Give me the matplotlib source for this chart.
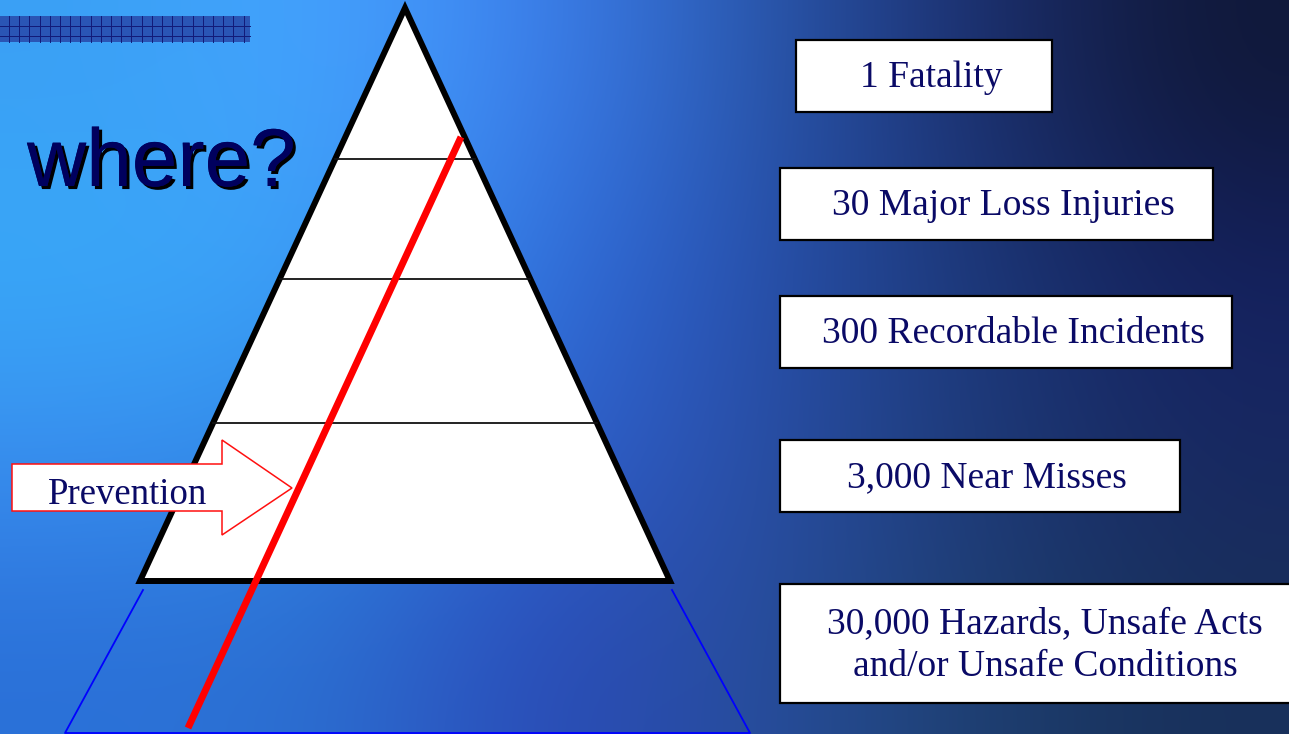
import numpy as np
import matplotlib
matplotlib.use("Agg")
import matplotlib.pyplot as plt
import matplotlib.patheffects as pe
from matplotlib.patches import Polygon, Rectangle
from matplotlib.colors import to_rgb

# pyramid data (top to bottom)
counts = ["1", "30", "300", "3,000", "30,000"]
labels = ["Fatality", "Major Loss Injuries", "Recordable Incidents", "Near Misses",
          "Hazards, Unsafe Acts\nand/or Unsafe Conditions"]
tier_lines = [159, 279, 423]  # y of the tier dividers (pixels)

# box layout (pixels)
box_left = [796, 780, 780, 780, 780]
box_right = [1052, 1213, 1232, 1180, 1296]
box_top = [40, 168, 296, 440, 584]
box_bottom = [112, 240, 368, 512, 703]

W, H = 1289, 734
navy = "#0a0a66"

fig = plt.figure(figsize=(W / 100, H / 100), dpi=100)
ax = fig.add_axes([0, 0, 1, 1])
ax.set_xlim(0, W)
ax.set_ylim(H, 0)
ax.axis("off")

# background gradient from a coarse grid of colours
bg = [["#3aa0f5", "#45a5ff", "#3d7ff0", "#2a5ab0", "#1c2f70", "#101838"],
      ["#38aaf8", "#3da0f8", "#3070e0", "#2850b0", "#1c3a78", "#142060"],
      ["#3a8ef0", "#2f8ae8", "#3060d0", "#2a50a8", "#1e3a78", "#182860"],
      ["#2a70d8", "#2c70d0", "#2a48b8", "#2850a0", "#1e4070", "#18305a"]]
grid = np.array([[to_rgb(c) for c in row] for row in bg])
ax.imshow(grid, extent=[0, W, H, 0], interpolation="bicubic", aspect="auto", zorder=0)

# checkered bar top left
ax.add_patch(Rectangle((0, 16), 250, 26, facecolor="#2a55b5", edgecolor="none", zorder=1))
for gx in np.arange(9, 250, 10.2):
    ax.plot([gx, gx], [16, 42], color="#121a78", lw=0.7, zorder=2)
for gy in [26, 36]:
    ax.plot([0, 250], [gy, gy], color="#121a78", lw=0.7, zorder=2)

# "where?" with a black drop shadow
ax.text(27, 186, "where?", fontsize=59, family="Liberation Sans", color="#00005e", va="baseline", zorder=4,
        path_effects=[pe.withSimplePatchShadow(offset=(2.2, -2.2), shadow_rgbFace="black", alpha=1.0),
                      pe.Normal()])

# blue outline of the hidden base of the pyramid
ax.plot([143, 65, 750, 672], [590, 733, 733, 590], color="#0000ff", lw=1.3, zorder=3)

# pyramid
apex = (405, 8)
base_l, base_r, base_y = 140, 670, 581
ax.add_patch(Polygon([apex, (base_l, base_y), (base_r, base_y)], closed=True,
                     facecolor="white", edgecolor="black", lw=4.3, joinstyle="miter", zorder=5))
for ty in tier_lines:
    frac = (ty - apex[1]) / (base_y - apex[1])
    xl = apex[0] - frac * (apex[0] - base_l)
    xr = apex[0] + frac * (base_r - apex[0])
    ax.plot([xl, xr], [ty, ty], color="#111111", lw=1.3, zorder=6)

# prevention arrow
arrow = [(12, 464), (222, 464), (222, 440), (292, 488), (222, 535), (222, 511), (12, 511)]
ax.add_patch(Polygon(arrow, closed=True, facecolor="white", edgecolor="#ff1010", lw=1.1, zorder=7))
ax.text(128, 495, "Prevention", fontsize=26.5, family="Liberation Serif", color=navy,
        ha="center", va="center", zorder=8)

# red line
ax.plot([461, 188], [137, 728], color="#ff0000", lw=5, solid_capstyle="butt", zorder=9)

# right boxes
for c, lab, l, r, t, b in zip(counts, labels, box_left, box_right, box_top, box_bottom):
    ax.add_patch(Rectangle((l, t), r - l, b - t, facecolor="white", edgecolor="black", lw=1.6, zorder=5))
    ax.text((l + r) / 2 + 7, (t + b) / 2 + 2, c + " " + lab, fontsize=27, family="Liberation Serif",
            color=navy, ha="center", va="center", linespacing=1.3, zorder=6)

fig.savefig("out.png", dpi=100)
